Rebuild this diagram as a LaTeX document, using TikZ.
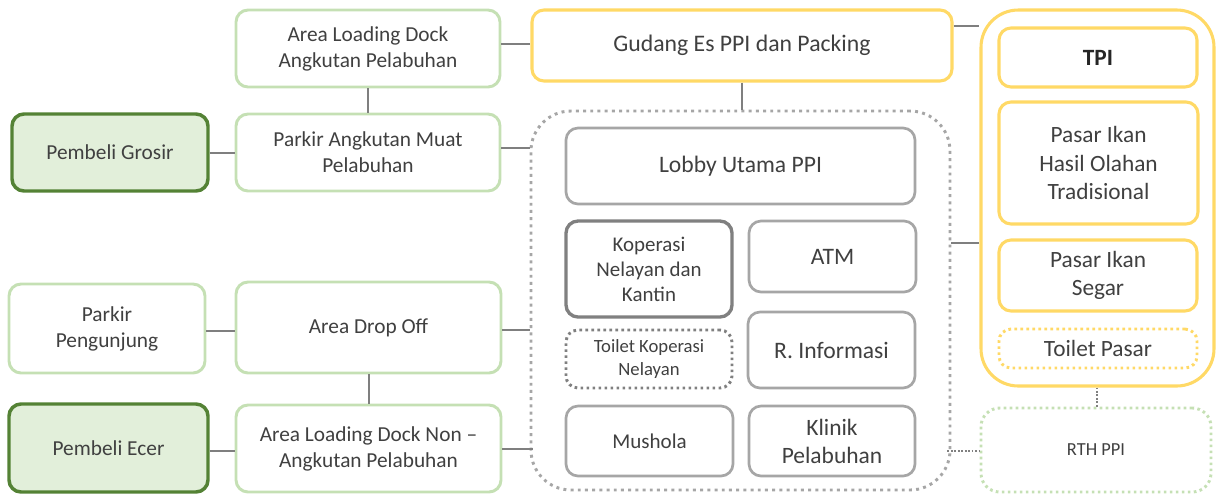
\documentclass[tikz,border=0pt]{standalone}
\usepackage{fontspec}
\setmainfont{Carlito}
\usetikzlibrary{calc}
\definecolor{txt}{HTML}{404040}
\definecolor{lgreen}{HTML}{C5E0B4}
\definecolor{dgreen}{HTML}{548235}
\definecolor{gfill}{HTML}{E2EFDA}
\definecolor{ylw}{HTML}{FFD966}
\definecolor{lgray}{HTML}{A6A6A6}
\definecolor{mgray}{HTML}{808080}
\definecolor{dotgray}{HTML}{A6A6A6}
\definecolor{wire}{HTML}{7F7F7F}
\newcommand{\fsz}[2]{\fontsize{#1}{#2}\selectfont}
\tikzset{
  x=0.75pt, y=-0.75pt,
  every node/.style={text=txt, align=center, inner sep=0pt},
  % place a box by its corners (x1,y1) and (x2,y2)
  span/.style n args={4}{at={({(#1+#3)/2},{(#2+#4)/2})},
    minimum width={(#3-#1)*0.75pt}, minimum height={(#4-#2)*0.75pt}},
  base/.style={rounded corners=9pt, fill=white},
  greenbox/.style={base, draw=lgreen, line width=2.2pt, font=\fsz{16}{19.5}},
  buyer/.style={base, draw=dgreen, fill=gfill, line width=2.6pt, font=\fsz{16}{19.5}},
  yellowbox/.style={base, draw=ylw, line width=2.3pt, font=\fsz{17.5}{21.2}},
  graybox/.style={base, draw=lgray, line width=2pt, font=\fsz{17.7}{21}},
  darkbox/.style={base, draw=mgray, line width=2.5pt, font=\fsz{15.7}{18.8}},
  dotbox/.style={base, draw=dotgray, line width=2.2pt, dash pattern=on 2.2pt off 3.2pt},
  kdotbox/.style={base, draw=mgray, line width=2.2pt, dash pattern=on 2pt off 2.5pt},
  ydotbox/.style={base, draw=ylw, line width=2.2pt, dash pattern=on 2pt off 2.5pt},
  gdotbox/.style={base, draw=lgreen, line width=2.2pt, dash pattern=on 2pt off 2.5pt},
  wireline/.style={draw=wire, line width=1.5pt},
  dotwire/.style={draw=mgray, line width=1.5pt, dash pattern=on 1.3pt off 1.3pt},
}
\begin{document}
\begin{tikzpicture}
\useasboundingbox (0,0) rectangle (1218,494);

% left column: buyers and parking
\node[buyer, span={12}{114}{208}{191}] (grosir) {Pembeli Grosir};
\node[greenbox, span={9}{284}{205}{373}] (pengunjung) {Parkir\\Pengunjung};
\node[buyer, span={9}{404}{208}{492}] (ecer) {Pembeli Ecer};

% second column: loading docks and parking areas
\node[greenbox, span={236}{10}{500}{87}] (dock) {Area Loading Dock\\Angkutan Pelabuhan};
\node[greenbox, span={236}{114}{500}{191}] (muat) {Parkir Angkutan Muat\\Pelabuhan};
\node[greenbox, span={236}{282}{501}{373}] (dropoff) {Area Drop Off};
\node[greenbox, span={236}{405}{501}{492}] (nondock) {Area Loading Dock Non --\\Angkutan Pelabuhan};

% ice storage
\node[yellowbox, font=\fsz{17.8}{21}, span={532}{10}{952}{81}] (gudang) {Gudang Es PPI dan Packing};

% PPI building
\node[dotbox, rounded corners=30pt, span={531}{111}{950}{490}] (ppi) {};
\node[graybox, span={566}{128}{915}{204}] (lobby) {Lobby Utama PPI};
\node[darkbox, span={566}{221}{732}{317}] (koperasi) {Koperasi\\Nelayan dan\\Kantin};
\node[graybox, span={749}{221}{916}{292}] (atm) {ATM};
\node[kdotbox, font=\fsz{14}{17.2}, span={566}{330}{732}{388}] (toiletkop) {Toilet Koperasi\\Nelayan};
\node[graybox, span={748}{312}{915}{388}] (info) {R. Informasi};
\node[graybox, font=\fsz{15.8}{19}, span={566}{406}{733}{476}] (mushola) {Mushola};
\node[graybox, font=\fsz{17.6}{21}, span={749}{406}{915}{476}] (klinik) {Klinik\\Pelabuhan};

% fish auction
\node[yellowbox, rounded corners=28pt, span={981}{10}{1214}{386}] (tpi) {};
\node[yellowbox, span={999}{28}{1197}{87}] (tpihead) {\textbf{\textcolor{black!85}{TPI}}};
\node[yellowbox, span={999}{102}{1198}{224}] (olahan) {Pasar Ikan\\Hasil Olahan\\Tradisional};
\node[yellowbox, span={999}{240}{1197}{311}] (segar) {Pasar Ikan\\Segar};
\node[ydotbox, font=\fsz{17.5}{21}, span={999}{329}{1197}{368}] (toiletpasar) {Toilet Pasar};

% green open space
\node[gdotbox, rounded corners=14pt, font=\fsz{13.8}{17}, span={981}{408}{1211}{492}] (rth) {RTH PPI};

% connectors
\draw[wireline] (dock.south) -- (muat.north);
\draw[wireline] (grosir.east) -- (grosir.east -| muat.west);
\draw[wireline] (dock.east |- 0,44) -- (gudang.west |- 0,44);
\draw[wireline] (muat.east |- 0,148) -- (ppi.west |- 0,148);
\draw[wireline] (gudang.south) -- (gudang.south |- ppi.north);
\draw[wireline] (pengunjung.east |- 0,331) -- (dropoff.west |- 0,331);
\draw[wireline] (dropoff.south) -- (nondock.north);
\draw[wireline] (dropoff.east |- 0,330) -- (ppi.west |- 0,330);
\draw[wireline] (ecer.east |- 0,451) -- (nondock.west |- 0,451);
\draw[wireline] (nondock.east |- 0,449) -- ($(ppi.west |- 0,449)+(3,0)$);
\draw[wireline] (gudang.east |- tpihead.north) -- (tpi.west |- tpihead.north);
\draw[wireline] (ppi.east |- 0,243) -- (tpi.west |- 0,243);
\draw[dotwire] (tpi.south -| 1097,0) -- (rth.north -| 1097,0);
\draw[dotwire] ($(ppi.east |- 0,451)+(-4,0)$) -- (rth.west |- 0,451);
\end{tikzpicture}
\end{document}
